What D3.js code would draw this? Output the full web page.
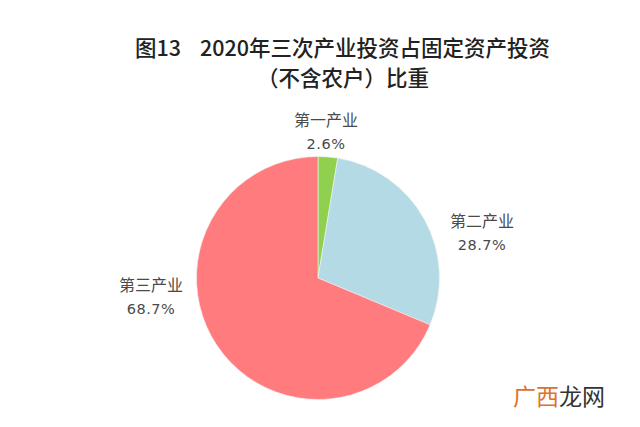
<!DOCTYPE html>
<html>
<head>
<meta charset="utf-8">
<script src="https://cdn.jsdelivr.net/npm/d3@7"></script>
<style>
  html, body { margin: 0; padding: 0; background: #ffffff; }
  svg { display: block; }
</style>
</head>
<body>
<svg id="chart" width="640" height="427"></svg>
<script>
const categories = ["第一产业", "第二产业", "第三产业"];
const values = [2.6, 28.7, 68.7];
const valueLabels = ["2.6%", "28.7%", "68.7%"];
const colors = ["#8fd14f", "#b4dae5", "#ff7b7e"];
const titleLines = ["图13", "2020年三次产业投资占固定资产投资", "（不含农户）比重"];

const svg = d3.select("#chart");
const cx = 318, cy = 278, r = 121.5;
const font = "'Noto Sans CJK SC', 'Noto Sans', sans-serif";

svg.append("rect").attr("width", 640).attr("height", 427).attr("fill", "#ffffff");

// Title
svg.append("text").attr("x", 135).attr("y", 56).attr("font-family", font)
  .attr("font-size", 21.5).attr("font-weight", 500).attr("fill", "#222").text(titleLines[0]);
svg.append("text").attr("x", 200).attr("y", 56).attr("font-family", font)
  .attr("font-size", 21.5).attr("font-weight", 500).attr("fill", "#222").text(titleLines[1]);
svg.append("text").attr("x", 257).attr("y", 86).attr("font-family", font)
  .attr("font-size", 21.5).attr("font-weight", 500).attr("fill", "#222").text(titleLines[2]);

// Pie
const pie = d3.pie().sort(null).value(d => d)
  .startAngle(0).endAngle(2 * Math.PI);
const arcs = pie(values);
const arc = d3.arc().innerRadius(0).outerRadius(r);

const g = svg.append("g").attr("transform", `translate(${cx},${cy})`);
g.selectAll("path").data(arcs).join("path")
  .attr("d", arc)
  .attr("fill", (d, i) => colors[i])
  .attr("stroke", "#f4f4f4")
  .attr("stroke-width", 0.6);

// Labels
const manual = [
  [326, 126, 149],
  [482, 227, 250],
  [151, 291, 314]
];
categories.forEach((c, i) => {
  const [lx, y1, y2] = manual[i];
  svg.append("text").attr("x", lx).attr("y", y1).attr("text-anchor", "middle")
    .attr("font-family", font).attr("font-size", 16).attr("fill", "#4a4a4a").text(c);
  svg.append("text").attr("x", lx).attr("y", y2).attr("text-anchor", "middle")
    .attr("font-family", "'DejaVu Sans', sans-serif").attr("font-size", 14.5)
    .attr("letter-spacing", 0.5).attr("fill", "#4a4a4a").text(valueLabels[i]);
});

// Watermark
const wm = svg.append("text").attr("x", 513).attr("y", 405)
  .attr("font-family", font).attr("font-size", 23);
wm.append("tspan").attr("fill", "#e0702a").text("广西");
wm.append("tspan").attr("fill", "#333333").text("龙网");
</script>
</body>
</html>
